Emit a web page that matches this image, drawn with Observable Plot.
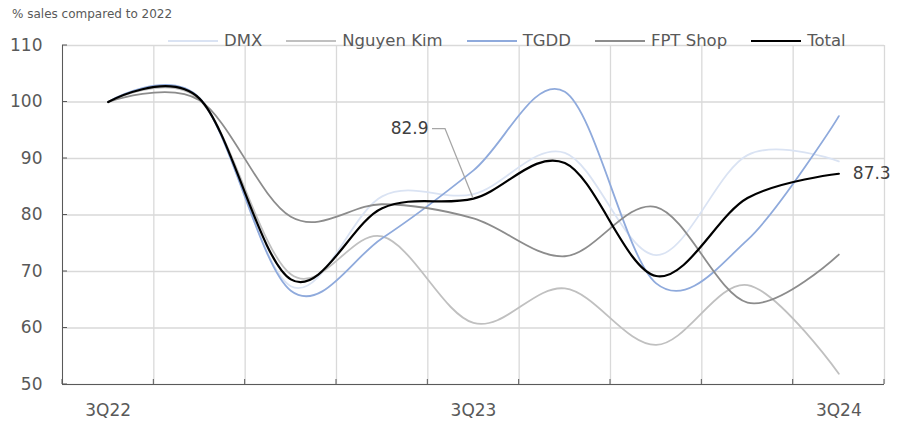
<!DOCTYPE html>
<html><head><meta charset="utf-8">
<script src="https://cdn.jsdelivr.net/npm/d3@7"></script>
<script src="https://cdn.jsdelivr.net/npm/@observablehq/plot@0.6"></script>
<style>
body{margin:0;background:#fff;}
#wrap{position:relative;width:899px;height:423px;font-family:"DejaVu Sans",sans-serif;}
#title{position:absolute;left:12px;top:7px;font-size:12px;color:#595959;white-space:nowrap;}
#legend{position:absolute;top:31px;left:168px;display:flex;align-items:center;font-size:16.5px;color:#595959;white-space:nowrap;}
#legend .item{display:flex;align-items:center;margin-right:24px;}
#legend svg{display:block;margin-right:6px;}
</style></head><body>
<div id="wrap"><div id="title">% sales compared to 2022</div><div id="legend"></div></div>
<script>
const quarters = ["3Q22","4Q22","1Q23","2Q23","3Q23","4Q23","1Q24","2Q24","3Q24"];
const dmx       = [100, 100.7, 67.4, 83.3, 83.7, 91.0, 72.9, 90.6, 89.5];
const nguyenKim = [100, 100.4, 69.5, 76.2, 60.9, 67.0, 57.0, 67.6, 51.9];
const tgdd      = [100, 100.7, 66.6, 75.9, 87.9, 101.8, 67.9, 75.6, 97.5];
const fptShop   = [100, 100.3, 79.7, 81.9, 79.4, 72.7, 81.4, 64.5, 73.0];
const total     = [100, 100.6, 68.6, 81.2, 82.9, 89.2, 69.2, 83.0, 87.3];
const seriesNames  = ["DMX", "Nguyen Kim", "TGDD", "FPT Shop", "Total"];
const seriesColors = ["#dae3f3", "#c0c0c0", "#8faadc", "#8c8c8c", "#000000"];
const seriesWidths = [1.8, 1.8, 1.8, 1.8, 2.2];
const yTicks = [50, 60, 70, 80, 90, 100, 110];
const xLabelIdx = [0, 4, 8];
const labelIdx = [4, 8];

const seriesValues = [dmx, nguyenKim, tgdd, fptShop, total];
const rows = [];
seriesNames.forEach((name, s) => seriesValues[s].forEach((v, i) => rows.push({series: name, i, value: v})));
const boundaries = d3.range(quarters.length + 1).map(k => k - 0.5);

const innerTicks = (index, scales, values, dims) => {
  const g = d3.create("svg:g").attr("stroke", "#595959").attr("stroke-width", 1);
  const x0 = dims.marginLeft, y0 = dims.height - dims.marginBottom;
  yTicks.forEach(t => g.append("line").attr("x1", x0).attr("x2", x0 + 5).attr("y1", scales.y(t)).attr("y2", scales.y(t)));
  boundaries.forEach(b => g.append("line").attr("x1", scales.x(b)).attr("x2", scales.x(b)).attr("y1", y0).attr("y2", y0 - 5));
  return g.node();
};
const leader = (index, scales) => {
  const px = scales.x(labelIdx[0]), py = scales.y(total[labelIdx[0]]);
  return d3.create("svg:path")
    .attr("d", `M${px},${py}L${px - 28},${py - 69.5}L${px - 41},${py - 69.5}`)
    .attr("fill", "none").attr("stroke", "#a6a6a6").attr("stroke-width", 1.3).node();
};

const chart = Plot.plot({
  width: 899, height: 423,
  marginTop: 45, marginLeft: 62, marginRight: 15, marginBottom: 39,
  style: {fontFamily: "DejaVu Sans, sans-serif", fontSize: "17px", background: "transparent"},
  x: {domain: [-0.5, quarters.length - 0.5], axis: null},
  y: {domain: [50, 110], axis: null},
  color: {domain: seriesNames, range: seriesColors},
  marks: [
    Plot.ruleY(yTicks, {stroke: "#d9d9d9", strokeWidth: 1.3}),
    Plot.ruleX(boundaries, {stroke: "#d9d9d9", strokeWidth: 1.3}),
    Plot.ruleX([-0.5], {stroke: "#595959", strokeWidth: 1}),
    Plot.ruleY([50], {stroke: "#595959", strokeWidth: 1}),
    innerTicks,
    Plot.text(yTicks, {x: -0.5, y: d => d, text: d => String(d), dx: -20, textAnchor: "end", fill: "#595959"}),
    Plot.text(xLabelIdx, {x: d => d, y: 50, text: d => quarters[d], dy: 26, fill: "#595959"}),
    ...seriesNames.map((name, s) => Plot.line(rows.filter(r => r.series === name), {
      x: "i", y: "value", stroke: "series", strokeWidth: seriesWidths[s], curve: "cardinal"
    })),
    leader,
    Plot.text([labelIdx[0]], {x: d => d, y: d => total[d], text: d => total[d].toFixed(1), dx: -45, dy: -70, textAnchor: "end", fill: "#404040"}),
    Plot.text([labelIdx[1]], {x: d => d, y: d => total[d], text: d => total[d].toFixed(1), dx: 14, textAnchor: "start", fill: "#404040"})
  ]
});
const wrap = document.getElementById("wrap");
wrap.insertBefore(chart, wrap.firstChild);
chart.style.position = "absolute"; chart.style.left = "0"; chart.style.top = "0";

const legend = document.getElementById("legend");
seriesNames.forEach((name, s) => {
  const item = document.createElement("div");
  item.className = "item";
  item.innerHTML = `<svg width="50" height="4"><line x1="0" x2="50" y1="2" y2="2" stroke="${seriesColors[s]}" stroke-width="${seriesWidths[s]}"/></svg><span>${name}</span>`;
  legend.appendChild(item);
});
</script>
</body></html>
